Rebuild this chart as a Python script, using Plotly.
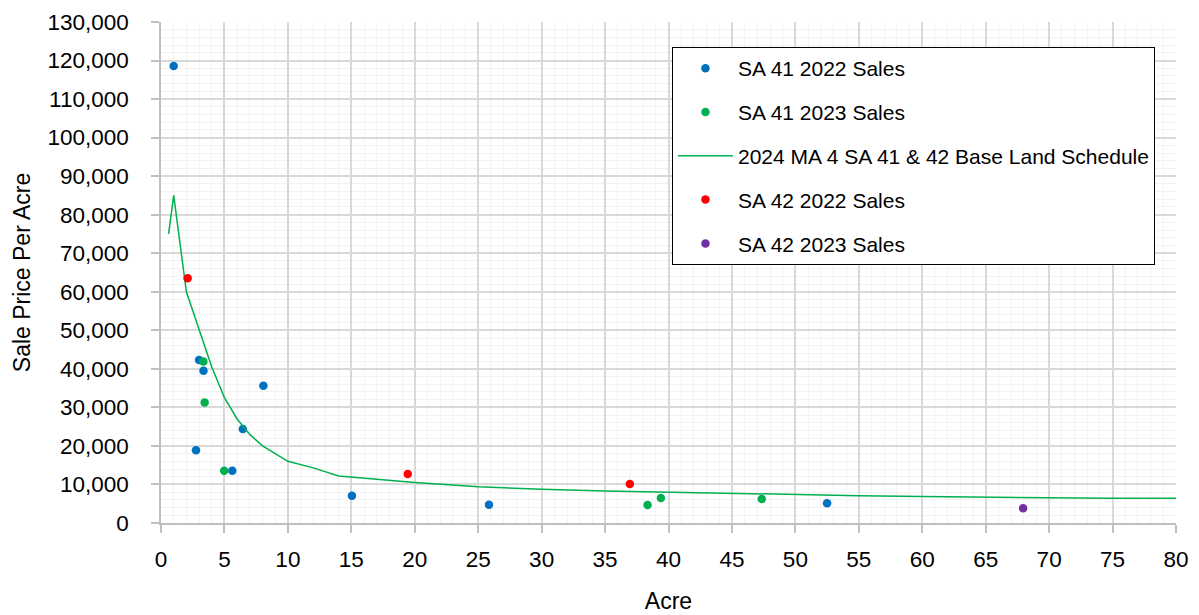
import plotly.graph_objects as go

# Schedule line
sched_x = [0.6, 1, 2, 3, 4, 5, 6, 7, 8, 10, 12, 14, 20, 25, 30, 35, 40, 45, 50, 55, 60, 65, 70, 75, 80]
sched_y = [75000, 85000, 60000, 50500, 40500, 32500, 27000, 23000, 20000, 16000, 14300, 12200,
           10500, 9400, 8750, 8300, 8000, 7600, 7350, 7100, 6900, 6650, 6550, 6450, 6400]

# SA 41 2022 Sales
sa41_22_x = [1.0, 3.0, 3.35, 2.76, 6.45, 8.07, 5.62, 15.05, 25.85, 52.5]
sa41_22_y = [118600, 42300, 39500, 18900, 24400, 35600, 13550, 7100, 4750, 5100]

# SA 41 2023 Sales
sa41_23_x = [3.34, 3.44, 4.98, 38.35, 39.4, 47.35]
sa41_23_y = [41900, 31250, 13550, 4670, 6500, 6230]

# SA 42 2022 Sales
sa42_22_x = [2.1, 19.45, 36.95]
sa42_22_y = [63500, 12700, 10100]

# SA 42 2023 Sales
sa42_23_x = [67.95]
sa42_23_y = [3800]

FONT = "Liberation Sans"

fig = go.Figure()
fig.add_trace(go.Scatter(x=sa41_22_x, y=sa41_22_y, mode="markers", name="SA 41 2022 Sales",
                         marker=dict(color="#0070C0", size=8.5), legendgroup="a"))
fig.add_trace(go.Scatter(x=sa41_23_x, y=sa41_23_y, mode="markers", name="SA 41 2023 Sales",
                         marker=dict(color="#00B050", size=8.5), legendgroup="b"))
fig.add_trace(go.Scatter(x=sched_x, y=sched_y, mode="lines",
                         name="2024 MA 4 SA 41 & 42 Base Land Schedule",
                         line=dict(color="#00B050", width=1.5), legendgroup="c"))
fig.add_trace(go.Scatter(x=sa42_22_x, y=sa42_22_y, mode="markers", name="SA 42 2022 Sales",
                         marker=dict(color="#FF0000", size=8.5), legendgroup="d"))
fig.add_trace(go.Scatter(x=sa42_23_x, y=sa42_23_y, mode="markers", name="SA 42 2023 Sales",
                         marker=dict(color="#7030A0", size=8.5), legendgroup="e"))

axis_common = dict(
    showline=True, linecolor="#bfbfbf", linewidth=1.5,
    ticks="outside", ticklen=8, tickcolor="#bfbfbf", tickwidth=1.5,
    showgrid=True, gridcolor="#d9d9d9", gridwidth=1.5,
    zeroline=False, automargin=False,
    tickfont=dict(family=FONT, size=22.5, color="#000000"),
)

# page body has an 8px default margin, so size/margins are offset to compensate
fig.update_layout(
    width=1191, height=607,
    margin=dict(l=153, r=23, t=14, b=92),
    paper_bgcolor="white", plot_bgcolor="white",
    font=dict(family=FONT, color="#000000"),
    xaxis=dict(range=[0, 80], dtick=5, tick0=0,
               minor=dict(dtick=1, showgrid=True, gridcolor="#f2f2f2", gridwidth=1),
               ticklabelstandoff=7,
               title=dict(text="Acre", font=dict(family=FONT, size=23, color="#000000"), standoff=22),
               **axis_common),
    yaxis=dict(range=[0, 130000], dtick=10000, tick0=0, tickformat=",d",
               minor=dict(dtick=2000, showgrid=True, gridcolor="#f2f2f2", gridwidth=1),
               ticklabelstandoff=18,
               title=dict(text="Sale Price Per Acre", font=dict(family=FONT, size=23, color="#000000"), standoff=10),
               **axis_common),
    legend=dict(x=0.5034, y=0.95, xanchor="left", yanchor="top",
                bgcolor="white", bordercolor="#000000", borderwidth=1,
                font=dict(family=FONT, size=21, color="#000000"),
                traceorder="grouped", tracegroupgap=13.5, itemwidth=55),
    showlegend=True,
)

fig.write_html("out.html")
